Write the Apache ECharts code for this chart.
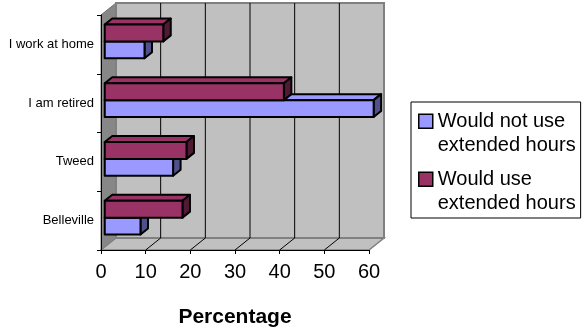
<!DOCTYPE html>
<html>
<head>
<meta charset="utf-8">
<script src="https://cdn.jsdelivr.net/npm/echarts@6/dist/echarts.min.js"></script>
<style>
  html, body { margin: 0; padding: 0; background: #fff; }
  #chart { width: 586px; height: 330px; }
</style>
</head>
<body>
<div id="chart"></div>
<script>
// Survey results: who would use extended hours (percent), bottom-to-top order
const categories = ['Belleville', 'Tweed', 'I am retired', 'I work at home'];
const wouldNotUse = [8.0, 15.3, 60.2, 8.9];
const wouldUse = [17.4, 18.3, 40.1, 13.1];
const xTicks = [0, 10, 20, 30, 40, 50, 60];
const seriesNames = ['Would not use extended hours', 'Would use extended hours'];

const FONT = '"Liberation Sans", Arial, sans-serif';
// Depth of the 3D box (walls) and of the bars, in pixels
const DX = 15, DY = -12;
const BAR_FRONT_X = DX / 4, BAR_FRONT_Y = DY / 4;
const BAR_DX = DX / 2, BAR_DY = DY / 2;

const chart = echarts.init(document.getElementById('chart'), null, { renderer: 'canvas' });

function renderWalls(params, api) {
  const cs = params.coordSys;
  const x0 = cs.x, x1 = cs.x + cs.width, y0 = cs.y, y1 = cs.y + cs.height;
  const children = [];
  // left side wall
  children.push({
    type: 'polygon',
    shape: { points: [[x0, y0], [x0 + DX, y0 + DY], [x0 + DX, y1 + DY], [x0, y1]] },
    style: { fill: '#878787', stroke: '#6E6E6E', lineWidth: 1 }
  });
  // floor
  children.push({
    type: 'polygon',
    shape: { points: [[x0, y1], [x1, y1], [x1 + DX, y1 + DY], [x0 + DX, y1 + DY]] },
    style: { fill: '#C0C0C0', stroke: '#808080', lineWidth: 1.5 }
  });
  // back wall
  children.push({
    type: 'rect',
    shape: { x: x0 + DX, y: y0 + DY, width: x1 - x0, height: y1 - y0 },
    style: { fill: '#C0C0C0', stroke: '#808080', lineWidth: 2 }
  });
  // gridlines on the back wall and their traces across the floor
  xTicks.slice(1, -1).forEach(function (t) {
    const xf = api.coord([t, 0])[0];
    const xb = xf + DX;
    children.push({
      type: 'line',
      shape: { x1: xb, y1: y0 + DY, x2: xb, y2: y1 + DY },
      style: { stroke: '#000', lineWidth: 1 }
    });
    children.push({
      type: 'line',
      shape: { x1: xf, y1: y1, x2: xb, y2: y1 + DY },
      style: { stroke: '#000', lineWidth: 1 }
    });
  });
  return { type: 'group', children: children };
}

function makeBarRenderer(slot, front, top, side) {
  return function (params, api) {
    const val = api.value(0), cat = api.value(1);
    const start = api.coord([0, cat]);
    const end = api.coord([val, cat]);
    const h = api.size([0, 1])[1] / 3.5;
    const xa = start[0] + BAR_FRONT_X;
    const xb = end[0] + BAR_FRONT_X;
    const ya = start[1] + BAR_FRONT_Y + (slot === 0 ? 0 : -h);
    const yb = ya + h;
    const stroke = { stroke: '#000', lineWidth: 2, lineJoin: 'round' };
    return {
      type: 'group',
      children: [
        {
          type: 'polygon',
          shape: { points: [[xa, ya], [xb, ya], [xb + BAR_DX, ya + BAR_DY], [xa + BAR_DX, ya + BAR_DY]] },
          style: Object.assign({ fill: top }, stroke)
        },
        {
          type: 'polygon',
          shape: { points: [[xb, ya], [xb + BAR_DX, ya + BAR_DY], [xb + BAR_DX, yb + BAR_DY], [xb, yb]] },
          style: Object.assign({ fill: side }, stroke)
        },
        {
          type: 'rect',
          shape: { x: xa, y: ya, width: xb - xa, height: h },
          style: Object.assign({ fill: front }, stroke)
        }
      ]
    };
  };
}

const option = {
  animation: false,
  backgroundColor: '#fff',
  textStyle: { fontFamily: FONT },
  grid: { left: 101, right: 217, top: 15, bottom: 80, containLabel: false, outerBoundsMode: 'none' },
  xAxis: {
    type: 'value',
    min: 0, max: 60, interval: 10,
    z: 10,
    splitLine: { show: false },
    axisLine: { show: true, lineStyle: { color: '#000', width: 1 } },
    axisTick: { show: true, length: 4, lineStyle: { color: '#000' } },
    axisLabel: { fontSize: 20, color: '#000', margin: 12, fontFamily: FONT },
    name: 'Percentage',
    nameLocation: 'middle',
    nameGap: 57,
    nameTextStyle: { fontSize: 21, fontWeight: 'bold', color: '#000', fontFamily: FONT }
  },
  yAxis: {
    type: 'category',
    data: categories,
    z: 10,
    axisLine: { show: true, lineStyle: { color: '#000', width: 1 } },
    axisTick: { show: true, length: 4, lineStyle: { color: '#000' } },
    axisLabel: { fontSize: 13, color: '#000', margin: 7, fontFamily: FONT, padding: [0, 0, 2, 0] },
    splitLine: { show: false }
  },
  legend: {
    orient: 'vertical',
    left: 411, top: 102,
    data: seriesNames,
    icon: 'path://M0,0H14V14H0Z M7,38.5L7,38.5',
    itemWidth: 14, itemHeight: 38.5,
    itemGap: 9,
    padding: [7, 5, 2, 7],
    borderColor: '#000', borderWidth: 1,
    backgroundColor: '#fff',
    selectedMode: false,
    itemStyle: { borderColor: '#000', borderWidth: 1.5 },
    textStyle: { fontSize: 20, lineHeight: 24.5, color: '#000', fontFamily: FONT },
    formatter: function (name) { return name.replace(' extended', '\nextended'); }
  },
  series: [
    {
      type: 'custom',
      name: 'walls',
      z: 0,
      silent: true,
      renderItem: renderWalls,
      data: [[0, 0]],
      encode: { x: 0, y: 1 }
    },
    {
      type: 'custom',
      name: seriesNames[0],
      z: 2,
      itemStyle: { color: '#9999FF' },
      renderItem: makeBarRenderer(0, '#9999FF', '#9999FF', '#50508C'),
      data: wouldNotUse.map(function (v, i) { return [v, i]; }),
      encode: { x: 0, y: 1 }
    },
    {
      type: 'custom',
      name: seriesNames[1],
      z: 3,
      itemStyle: { color: '#993366' },
      renderItem: makeBarRenderer(1, '#993366', '#993366', '#501A35'),
      data: wouldUse.map(function (v, i) { return [v, i]; }),
      encode: { x: 0, y: 1 }
    }
  ]
};

chart.setOption(option);
</script>
</body>
</html>
